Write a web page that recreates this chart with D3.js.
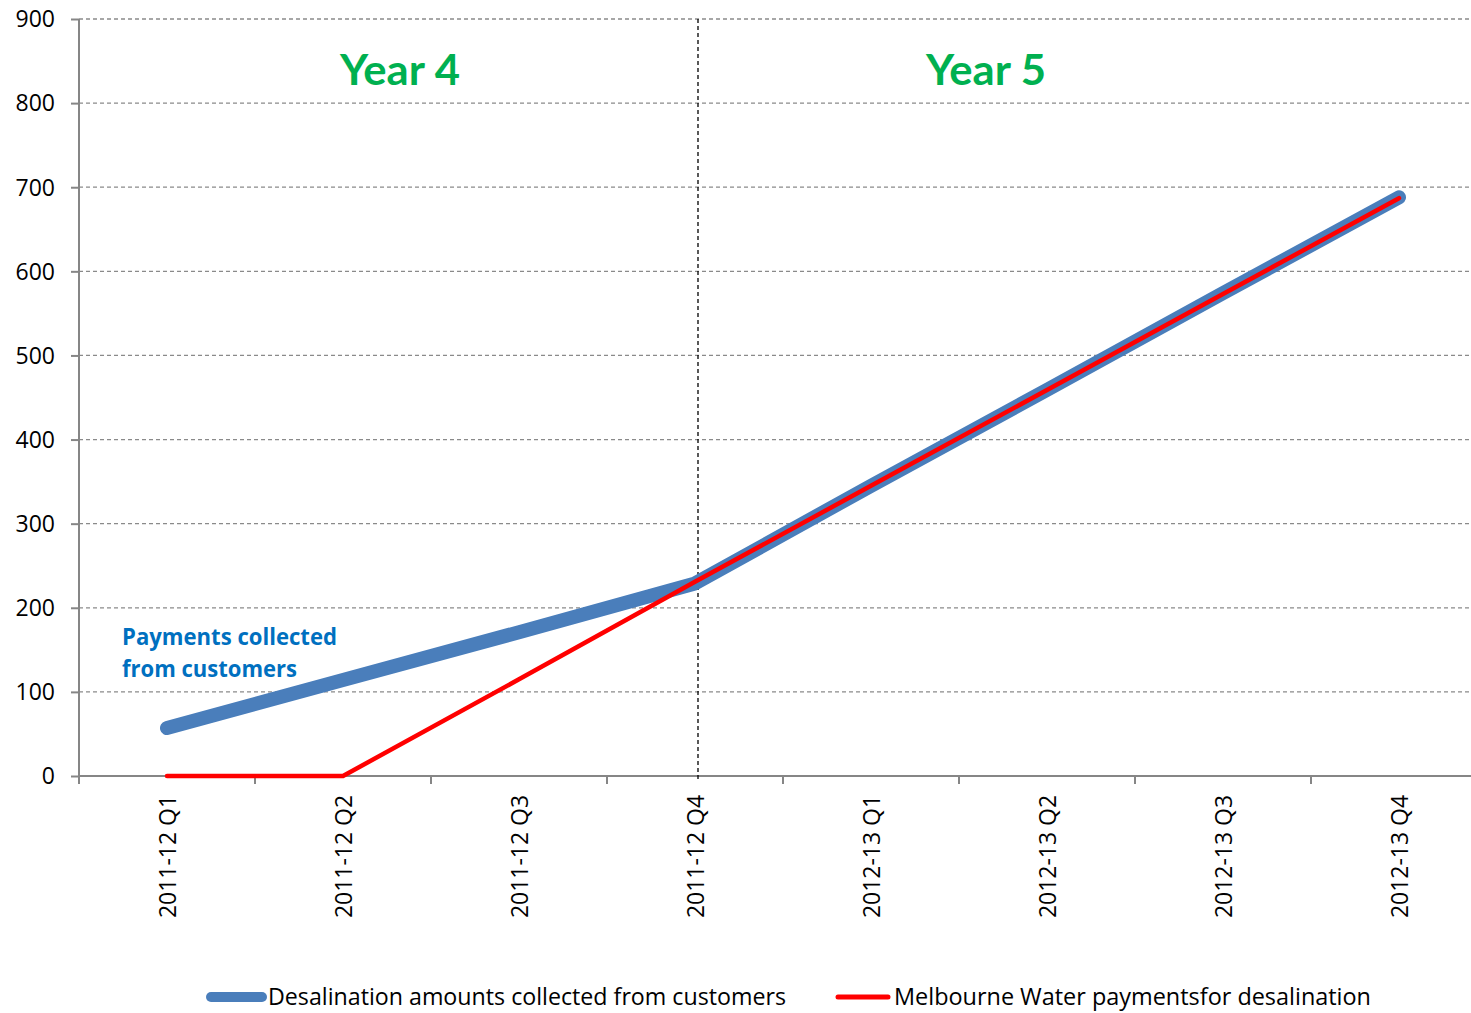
<!DOCTYPE html>
<html><head><meta charset="utf-8">
<script src="https://cdn.jsdelivr.net/npm/d3@7"></script>
<style>body{margin:0;background:#fff;overflow:hidden}svg{display:block}</style>
</head><body>
<script>
const categories = ["2011-12 Q1","2011-12 Q2","2011-12 Q3","2011-12 Q4","2012-13 Q1","2012-13 Q2","2012-13 Q3","2012-13 Q4"];
const collected = [57, 114, 171, 229, 345, 459, 574, 688];
const payments = [0, 0, 115, 231, 345, 459, 573, 687];
const yTicks = [0,100,200,300,400,500,600,700,800,900];
const seriesNames = ["Desalination amounts collected from customers","Melbourne Water paymentsfor desalination"];
const periodLabels = [{label:"Year 4", from:0, to:3}, {label:"Year 5", from:3, to:7}];

(function(){
const W = 1471, H = 1013;
const svg = d3.select("body").append("svg").attr("width", W).attr("height", H);
const pLeft = 79, pTop = 19, pBottom = 776, step = 176;
const x = d3.scaleBand().domain(categories).range([pLeft, pLeft + step*categories.length]).padding(0);
const cx = d => x(d) + x.bandwidth()/2;
const y = d3.scaleLinear().domain([0,900]).range([pBottom, pTop]);

// gridlines
svg.append("g").selectAll("line").data(yTicks.filter(t=>t>0)).join("line")
  .attr("x1", pLeft).attr("x2", W).attr("y1", d=>y(d)).attr("y2", d=>y(d))
  .attr("stroke","#8a8a8a").attr("stroke-width",1.3).attr("stroke-dasharray","4,3");

// y axis
const yAxis = svg.append("g").attr("transform",`translate(${pLeft},0)`)
  .call(d3.axisLeft(y).tickValues(yTicks).tickSize(8).tickPadding(16).tickFormat(d3.format("d")));
yAxis.attr("font-family","Open Sans, sans-serif").attr("font-size",23);
yAxis.select(".domain").attr("stroke","#868686").attr("stroke-width",2).attr("d",`M0,${pTop}V${pBottom}`);
yAxis.selectAll(".tick line").attr("stroke","#868686").attr("stroke-width",2);
yAxis.selectAll(".tick text").attr("fill","#000").attr("dy","0.34em");

// x axis
svg.append("line").attr("x1",pLeft).attr("x2",W).attr("y1",pBottom).attr("y2",pBottom)
  .attr("stroke","#868686").attr("stroke-width",2);
const bounds = categories.map(c=>x(c)).concat([x(categories[categories.length-1])+step]);
svg.append("g").selectAll("line").data(bounds).join("line")
  .attr("x1",d=>d).attr("x2",d=>d).attr("y1",pBottom).attr("y2",pBottom+8)
  .attr("stroke","#868686").attr("stroke-width",2);
svg.append("g").selectAll("text").data(categories).join("text")
  .attr("transform", d=>`translate(${cx(d)+9},${pBottom+19}) rotate(-90)`)
  .attr("text-anchor","end").attr("font-size",23).attr("font-family","Open Sans, sans-serif").attr("fill","#000")
  .attr("textLength",123).attr("lengthAdjust","spacingAndGlyphs")
  .text(d=>d);

// vertical divider
svg.append("line").attr("x1",cx(categories[3])+3).attr("x2",cx(categories[3])+3)
  .attr("y1",pTop).attr("y2",pBottom+3).attr("stroke","#000").attr("stroke-width",1.3).attr("stroke-dasharray","4,3");

// period labels
svg.append("g").selectAll("text").data(periodLabels).join("text")
  .attr("x", d=> d.from===0 ? 340 : 926)
  .attr("y", 85).attr("font-size",42).attr("font-weight","bold").attr("font-family","Lato, sans-serif")
  .attr("textLength",120).attr("lengthAdjust","spacingAndGlyphs")
  .attr("fill","#00B050").text(d=>d.label);

// lines
const line = d3.line().x((d,i)=>cx(categories[i])).y(d=>y(d));
svg.append("path").datum(collected).attr("d",line).attr("fill","none")
  .attr("stroke","#4A7EBB").attr("stroke-width",14).attr("stroke-linecap","round").attr("stroke-linejoin","round");
svg.append("path").datum(payments).attr("d",line).attr("fill","none")
  .attr("stroke","#FF0000").attr("stroke-width",4.5).attr("stroke-linecap","round").attr("stroke-linejoin","round");

// annotation
const ann = svg.append("text").attr("font-size",23).attr("font-weight","bold").attr("fill","#0070C0")
  .attr("font-family","Open Sans, sans-serif");
ann.append("tspan").attr("x",122).attr("y",645).attr("textLength",215).attr("lengthAdjust","spacingAndGlyphs").text("Payments collected");
ann.append("tspan").attr("x",122).attr("y",677).attr("textLength",175).attr("lengthAdjust","spacingAndGlyphs").text("from customers");

// legend
const legend = [
  {name:seriesNames[0], color:"#4A7EBB", w:10, x1:211, x2:262, tx:268, tl:518},
  {name:seriesNames[1], color:"#FF0000", w:5, x1:838, x2:888, tx:894, tl:477}
];
const lg = svg.append("g").attr("font-family","Open Sans, sans-serif");
legend.forEach(l=>{
  lg.append("line").attr("x1",l.x1).attr("x2",l.x2).attr("y1",997).attr("y2",997)
    .attr("stroke",l.color).attr("stroke-width",l.w).attr("stroke-linecap","round");
  lg.append("text").attr("x",l.tx).attr("y",1005).attr("font-size",24)
    .attr("textLength",l.tl).attr("lengthAdjust","spacingAndGlyphs").attr("fill","#000").text(l.name);
});
})();
</script>
</body></html>
